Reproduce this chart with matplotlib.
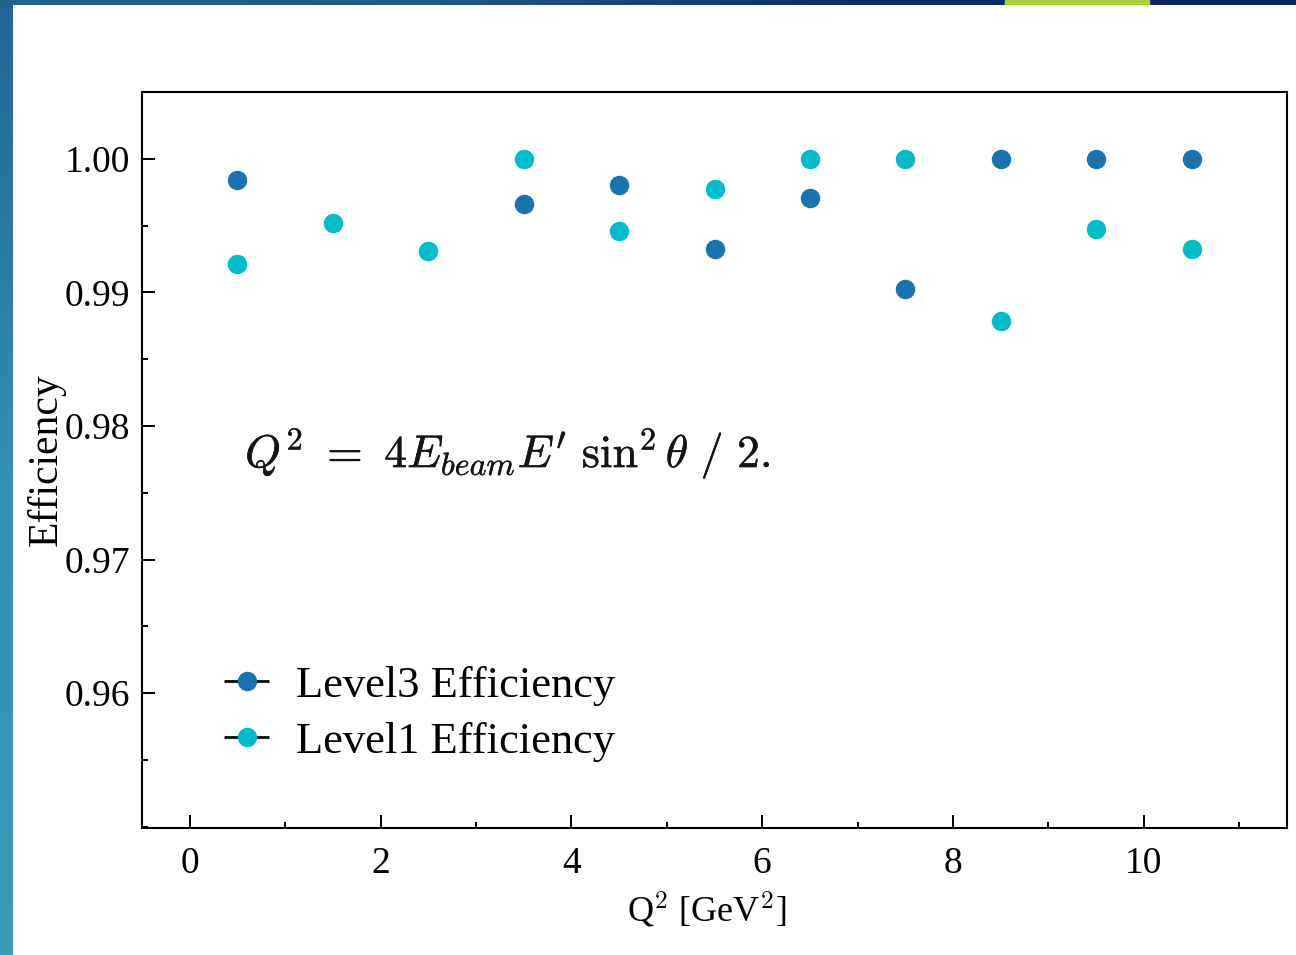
import numpy as np
import matplotlib
matplotlib.use("Agg")
import matplotlib.pyplot as plt
import matplotlib.patheffects as pe

q2_bins = [0.5, 1.5, 2.5, 3.5, 4.5, 5.5, 6.5, 7.5, 8.5, 9.5, 10.5]
level3_eff = [0.99844, np.nan, np.nan, 0.99665, 0.99806, 0.99322, 0.99710,
              0.99025, 1.0, 1.0, 1.0]
level1_eff = [0.99211, 0.99516, 0.99308, 1.0, 0.99456, 0.99777, 1.0,
              1.0, 0.98786, 0.99471, 0.99322]

plt.rcParams['font.family'] = ['Liberation Serif', 'DejaVu Serif']
plt.rcParams['mathtext.fontset'] = 'cm'

fig = plt.figure(figsize=(12.96, 9.55), dpi=100)

# slide decoration: left strip and top strip
W, H = 1296, 955
ax_left = fig.add_axes([0, 0, 13 / W, 1])
grad = np.linspace(0, 1, 256).reshape(-1, 1)
cmap_left = matplotlib.colors.LinearSegmentedColormap.from_list(
    "l", ["#3b9cb9", "#3290b3", "#226594"])
ax_left.imshow(grad, aspect='auto', cmap=cmap_left, origin='lower')
ax_left.axis('off')

ax_top = fig.add_axes([0, 1 - 5 / H, 1, 5 / H])
cmap_top = matplotlib.colors.LinearSegmentedColormap.from_list(
    "t", ["#22658f", "#205a88", "#0b2d68", "#0a2463"])
ax_top.imshow(grad.T, aspect='auto', cmap=cmap_top, extent=(0, W, 0, 1))
ax_top.axvspan(1005, 1149, color="#acd334")
ax_top.set_xlim(0, W)
ax_top.axis('off')

ax = fig.add_axes([142 / W, 1 - 828 / H, (1287 - 142) / W, (828 - 92) / H])

ax.errorbar(q2_bins, level3_eff, xerr=0, fmt='o', color='#1874b0', ecolor='k',
            elinewidth=2, markersize=13, label='Level3 Efficiency')
ax.errorbar(q2_bins, level1_eff, xerr=0, fmt='o', color='#00bdcc', ecolor='k',
            elinewidth=2, markersize=13, label='Level1 Efficiency')

ax.set_xlim(-0.5, 11.5)
ax.set_ylim(0.9499, 1.005)
ax.set_xticks([0, 2, 4, 6, 8, 10])
ax.set_xticks([1, 3, 5, 7, 9, 11], minor=True)
ax.set_yticks([0.96, 0.97, 0.98, 0.99, 1.00])
ax.set_yticks([0.95, 0.955, 0.965, 0.975, 0.985, 0.995], minor=True)
ax.yaxis.set_major_formatter(matplotlib.ticker.FormatStrFormatter('%.2f'))

ax.tick_params(axis='x', which='major', direction='in', length=9.4, width=1.4,
               labelsize=27, pad=13)
ax.tick_params(axis='x', which='minor', direction='in', length=4.3, width=1.4)
ax.tick_params(axis='y', which='major', direction='in', length=9.4, width=1.4,
               labelsize=27, pad=8.6)
ax.tick_params(axis='y', which='minor', direction='in', length=4.3, width=1.4)
for sp in ax.spines.values():
    sp.set_linewidth(1.5)

ax.set_xlabel(r'Q$^2$ [GeV$^2$]', fontsize=26, labelpad=7)
ax.xaxis.label.set_x(0.4934)
ax.set_ylabel('Efficiency', fontsize=30, labelpad=-1)

ax.text(0.09, 0.51, r"$Q^2\ =\ 4E_{beam}E'\ \sin^2\theta\ /\ 2.$",
        transform=ax.transAxes, fontsize=33, ha='left', va='center', color='#151515',
        path_effects=[pe.withStroke(linewidth=0.3, foreground='#151515')])

ax.legend(loc='upper left', bbox_to_anchor=(0.054, 0.245), borderaxespad=0,
          frameon=False, fontsize=32, handlelength=1.13, handletextpad=0.55,
          labelspacing=0.36)

fig.savefig('out.png', dpi=100)
